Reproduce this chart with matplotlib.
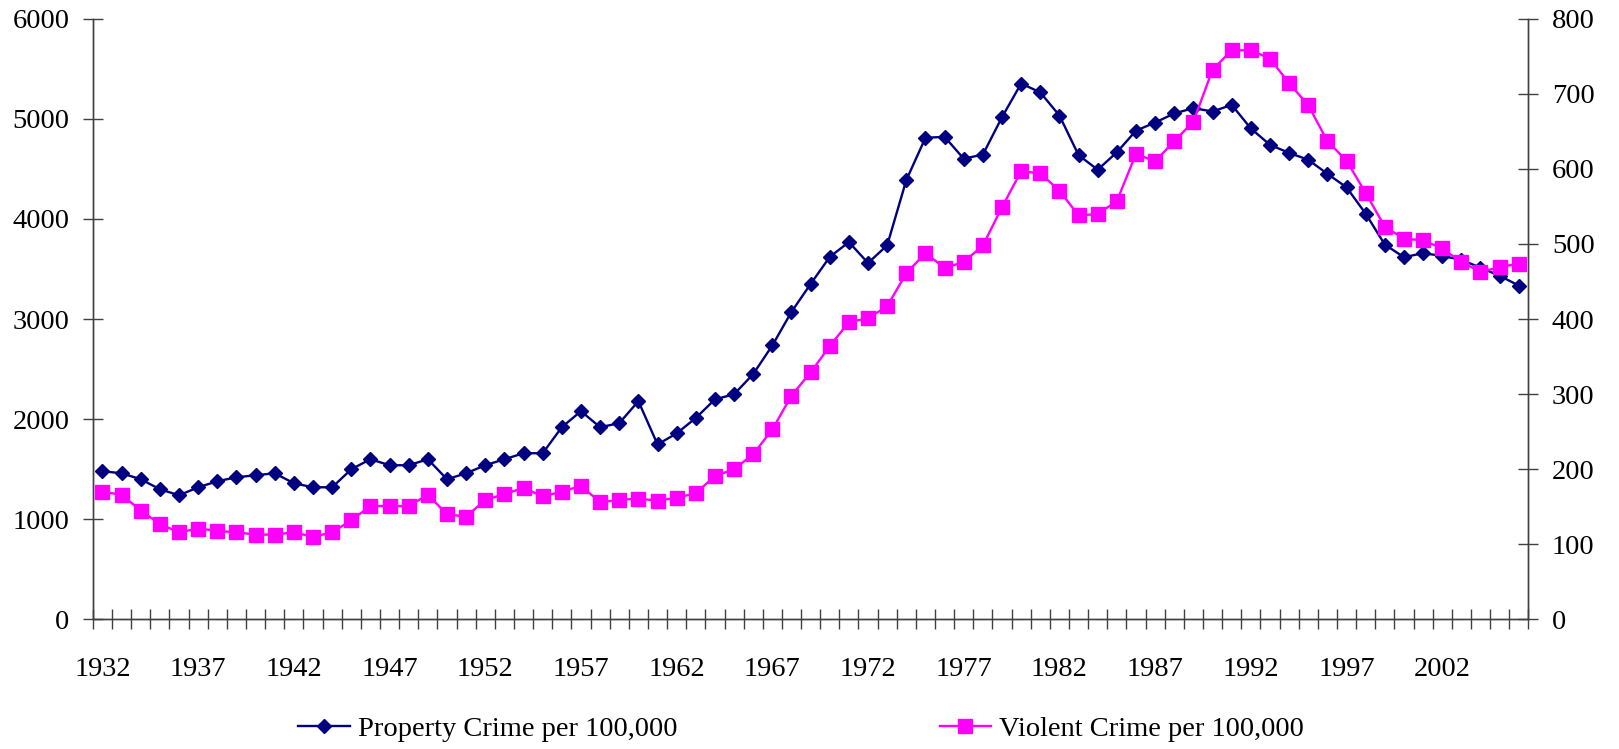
import matplotlib
matplotlib.use("Agg")
import matplotlib.pyplot as plt
import numpy as np

# categories: one per year, 1932-2006
years = list(range(1932, 2007))

# property crime per 100,000 (left axis)
property_crime = [1480, 1460, 1400, 1300, 1240, 1320, 1380, 1420, 1440, 1460,
                  1360, 1320, 1320, 1500, 1600, 1540, 1540, 1600, 1400, 1460,
                  1540, 1600, 1660, 1660, 1920, 2080, 1920, 1960, 2180,
                  1748, 1858, 2012, 2198, 2249, 2451, 2737, 3072, 3351, 3621,
                  3769, 3560, 3737, 4389, 4811, 4820, 4602, 4643, 5017, 5353,
                  5264, 5033, 4637, 4492, 4666, 4882, 4963, 5054, 5107, 5073,
                  5140, 4904, 4740, 4660, 4591, 4451, 4316, 4053, 3744, 3618,
                  3658, 3631, 3591, 3514, 3432, 3335]

# violent crime per 100,000 (right axis)
violent_crime = [170, 166, 145, 127, 116, 121, 118, 116, 113, 113,
                 116, 110, 116, 132, 151, 151, 151, 166, 140, 137,
                 159, 167, 175, 164, 170, 178, 156, 159, 161,
                 158, 162, 168, 191, 200, 220, 253, 298, 329, 364,
                 396, 401, 417, 461, 488, 468, 476, 498, 549, 597,
                 594, 571, 538, 540, 557, 620, 610, 637, 663, 732,
                 758, 758, 747, 714, 685, 637, 611, 568, 523, 507,
                 505, 494, 476, 463, 469, 474]

label_years = years[::5]

plt.rcParams['font.family'] = ['Liberation Serif', 'DejaVu Serif']
FS = 20.5

fig = plt.figure(figsize=(16.19, 7.49), dpi=100)
ax = fig.add_axes([0.0574, 0.173, 0.944 - 0.0574, 0.802])
ax2 = ax.twinx()

x = np.arange(len(years))
ax.plot(x, property_crime, color='#000080', lw=1.7, marker='D', ms=7.4,
        label='Property Crime per 100,000', zorder=3)
ax2.plot(x, violent_crime, color='#FF00FF', lw=1.7, marker='s', ms=9.6,
         label='Violent Crime per 100,000', zorder=3)

ax.set_xlim(-0.5, len(years) - 0.5)
ax.set_ylim(0, 6000)
ax2.set_ylim(0, 800)
ax.set_yticks(range(0, 6001, 1000))
ax2.set_yticks(range(0, 801, 100))

# labels under every 5th category, tick marks on category boundaries
ax.set_xticks([years.index(y) for y in label_years])
ax.set_xticklabels([str(y) for y in label_years])
ax.set_xticks(np.arange(-0.5, len(years)), minor=True)
ax.tick_params(axis='x', which='major', length=0, pad=27, labelsize=FS)
ax.tick_params(axis='x', which='minor', direction='inout', length=14, width=1, color='#404040')
ax.tick_params(axis='y', direction='inout', length=14, width=1, pad=10, labelsize=FS, color='#404040')
ax2.tick_params(axis='y', direction='inout', length=14, width=1, pad=10, labelsize=FS, color='#404040')

for a in (ax, ax2):
    a.spines['top'].set_visible(False)
    for s in ('left', 'right', 'bottom'):
        a.spines[s].set_color('#404040')
        a.spines[s].set_linewidth(1)

h1, l1 = ax.get_legend_handles_labels()
h2, l2 = ax2.get_legend_handles_labels()
fig.legend(h1 + h2, l1 + l2, loc='center', bbox_to_anchor=(0.495, 0.027), ncol=2,
           frameon=False, fontsize=FS, handlelength=1.8, handletextpad=0.3,
           columnspacing=9.2)

fig.savefig('out.png', dpi=100)
